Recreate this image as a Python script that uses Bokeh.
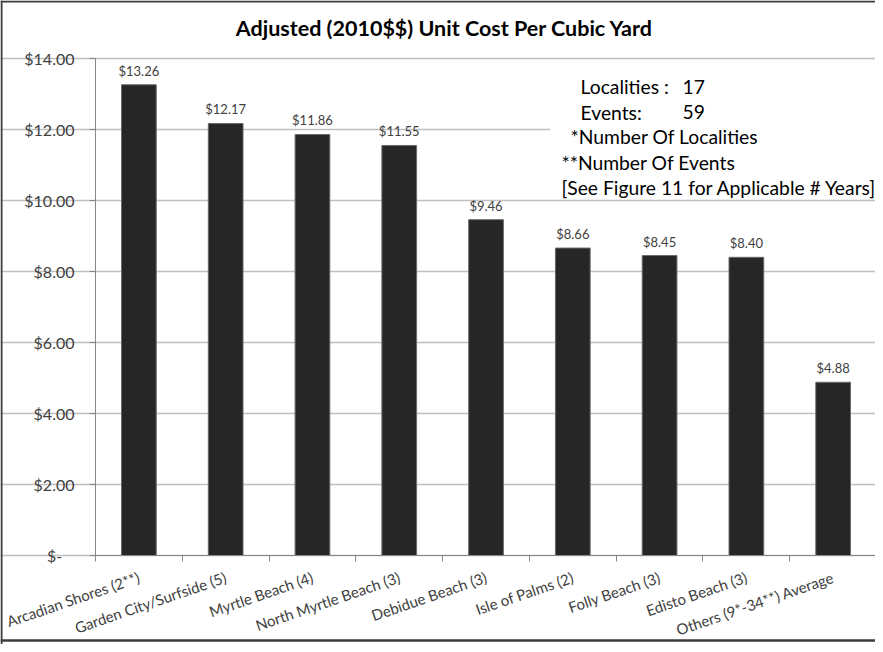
from bokeh.plotting import figure
from bokeh.models import ColumnDataSource, FixedTicker, LabelSet, Label, BoxAnnotation, Span
from bokeh.core.properties import value
from bokeh.embed import file_html
from bokeh.resources import INLINE

# ---- data ----
categories = ["Arcadian Shores (2**)", "Garden City/Surfside (5)", "Myrtle Beach (4)",
              "North Myrtle Beach (3)", "Debidue Beach (3)", "Isle of Palms (2)",
              "Folly Beach (3)", "Edisto Beach (3)", "Others (9*-34**) Average"]
costs = [13.26, 12.17, 11.86, 11.55, 9.46, 8.66, 8.45, 8.40, 4.88]
y_ticks = [0, 2, 4, 6, 8, 10, 12, 14]
title_text = "Adjusted (2010$$) Unit Cost Per Cubic Yard"
note_keys = ["Localities :", "Events:"]
note_vals = ["17", "59"]
note_lines = ["*Number Of Localities", "**Number Of Events", "[See Figure 11 for Applicable # Years]"]

FONT = "Lato"
TXT = "#404040"
GRID = "#c0c0c0"
AX = "#868686"
BORDER = "#3c3c3c"

n = len(categories)
xs = list(range(n))
src = ColumnDataSource(dict(
    x=xs, cost=costs, cat=categories,
    lab=["$%.2f" % c for c in costs],
))

X0, X1 = -1.5947, 8.488
Y0, Y1 = -2.507, 15.634
PX_X = (X1 - X0) / 875.0
PX_Y = (Y1 - Y0) / 644.0

# frame fills the whole canvas; axes are pinned inside it
p = figure(width=875, height=644, output_backend="svg", toolbar_location=None,
           title=None, x_range=(X0, X1), y_range=(Y0, Y1), min_border=0)
p.outline_line_color = None
p.background_fill_color = "white"
p.border_fill_color = "white"

# chart-area border (left, top, bottom)
p.add_layout(Span(location=X0 + PX_X, dimension="height", line_color=BORDER, line_width=2))
p.add_layout(Span(location=Y1 - PX_Y, dimension="width", line_color=BORDER, line_width=2))
p.add_layout(Span(location=Y0 + 4 * PX_Y, dimension="width", line_color=BORDER, line_width=2.5))

p.vbar(x="x", top="cost", width=0.4, source=src, fill_color="#262626",
       line_color="#6a6a6a", line_width=1)

p.add_layout(LabelSet(x="x", y="cost", text="lab", source=src, y_offset=6,
                      text_align="center", text_baseline="bottom",
                      text_font=value(FONT), text_font_size="13px", text_color=TXT))

# x axis
xa = p.xaxis[0]
xa.fixed_location = 0
xa.bounds = (-0.5, n - 0.5)
xa.ticker = FixedTicker(ticks=xs, minor_ticks=[i - 0.5 for i in range(n + 1)])
xa.major_label_overrides = {i: c for i, c in zip(xs, categories)}
xa.major_label_orientation = 0.33
xa.major_tick_out = 0
xa.major_tick_in = 0
xa.minor_tick_out = 6
xa.minor_tick_in = 0
xa.minor_tick_line_color = AX
xa.axis_line_color = AX
xa.major_label_text_font = FONT
xa.major_label_text_font_size = "15px"
xa.major_label_text_color = TXT
xa.major_label_standoff = 15

# y axis
ya = p.yaxis[0]
ya.fixed_location = -0.5
ya.bounds = (0, 14)
ya.ticker = FixedTicker(ticks=y_ticks)
ya.major_label_overrides = {t: ("$%.2f" % t if t else "$-\u00a0\u00a0\u00a0") for t in y_ticks}
ya.major_tick_out = 6
ya.major_tick_in = 0
ya.minor_tick_out = 0
ya.minor_tick_in = 0
ya.major_tick_line_color = AX
ya.axis_line_color = AX
ya.major_label_text_font = FONT
ya.major_label_text_font_size = "16px"
ya.major_label_text_color = TXT
ya.major_label_standoff = 15

p.xgrid.grid_line_color = None
p.ygrid.grid_line_color = GRID
p.ygrid.grid_line_width = 1.5
p.ygrid.bounds = (-0.5, n - 0.5)

# note box
p.add_layout(BoxAnnotation(left=4.74, right=8.6, bottom=10.08, top=13.83,
                           fill_color="white", fill_alpha=1, line_color=None))
note_y = [13.21, 12.48, 11.80, 11.07, 10.37]
for k, v, yy in zip(note_keys, note_vals, note_y[:2]):
    p.add_layout(Label(x=5.089, y=yy, text=k, text_font=FONT, text_font_size="19.3px",
                       text_color="black", text_baseline="middle"))
    p.add_layout(Label(x=6.265, y=yy, text=v, text_font=FONT, text_font_size="19.3px",
                       text_color="black", text_baseline="middle"))
for t, xx, yy in zip(note_lines, [4.974, 4.87, 4.87], note_y[2:]):
    p.add_layout(Label(x=xx, y=yy, text=t, text_font=FONT, text_font_size="19.3px",
                       text_color="black", text_baseline="middle"))

# title
p.add_layout(Label(x=3.522, y=14.873, text=title_text, text_font=FONT,
                   text_font_size="21.5px", text_font_style="bold", text_color="black",
                   text_align="center", text_baseline="middle"))

open("out.html", "w").write(file_html(p, INLINE))
